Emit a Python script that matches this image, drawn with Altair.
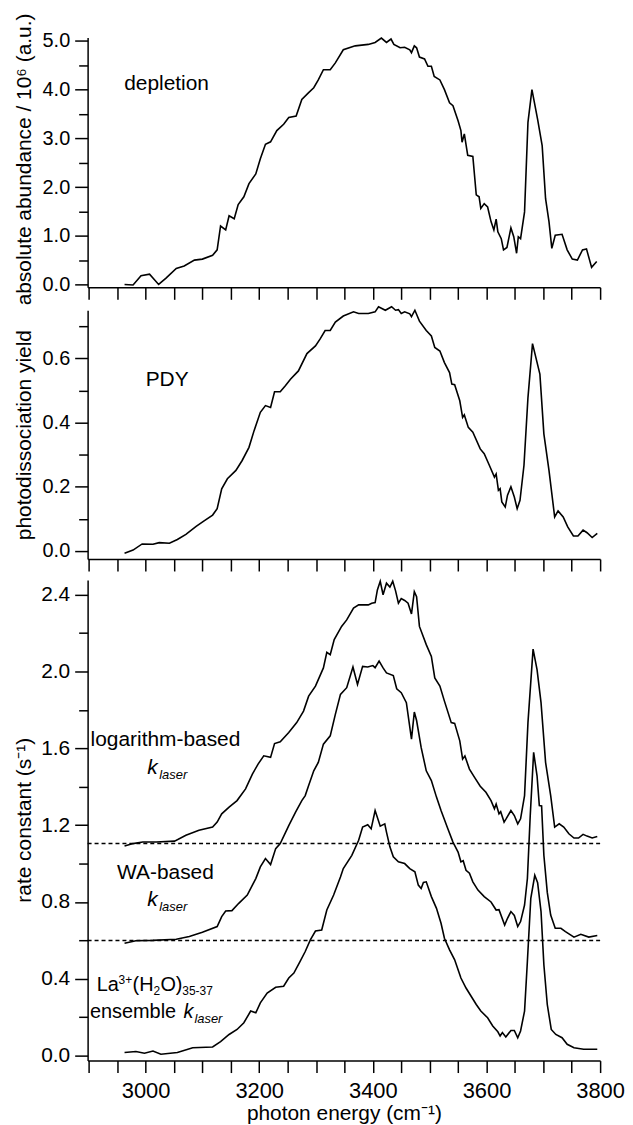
import altair as alt
import pandas as pd

FONT = "Liberation Sans"

# ---------------- data ----------------
dep_x = [2963, 2978, 2992, 3007, 3023, 3036, 3054, 3068, 3086, 3100, 3118, 3126, 3132, 3141, 3147,
         3156, 3163, 3173, 3182, 3194, 3202, 3211, 3220, 3231, 3243, 3252, 3265, 3275, 3287, 3296,
         3304, 3313, 3325, 3334, 3348, 3369, 3392, 3404, 3415, 3424, 3432, 3437, 3448, 3456, 3465,
         3468, 3473, 3477, 3482, 3491, 3497, 3503, 3508, 3518, 3526, 3535, 3541, 3550, 3555, 3557,
         3561, 3567, 3576, 3582, 3587, 3590, 3596, 3602, 3608, 3613, 3617, 3620, 3626, 3630, 3636,
         3643, 3648, 3653, 3656, 3660, 3667, 3673, 3680, 3690, 3698, 3704, 3710, 3715, 3721, 3733,
         3742, 3751, 3760, 3769, 3776, 3785, 3794]
dep_y = [0.00, -0.01, 0.18, 0.21, 0.00, 0.13, 0.33, 0.38, 0.50, 0.52, 0.60, 0.71, 1.20, 1.12, 1.41,
         1.35, 1.64, 1.80, 2.07, 2.27, 2.58, 2.88, 2.93, 3.16, 3.29, 3.43, 3.46, 3.80, 3.94, 4.04,
         4.20, 4.41, 4.41, 4.55, 4.82, 4.90, 4.93, 4.97, 5.06, 4.97, 5.04, 4.93, 4.86, 4.87, 4.82,
         4.76, 4.90, 4.86, 4.67, 4.63, 4.48, 4.48, 4.27, 4.20, 4.00, 3.73, 3.67, 3.36, 3.16, 2.92,
         3.09, 2.65, 2.63, 1.84, 1.80, 1.56, 1.66, 1.59, 1.29, 1.12, 1.34, 1.08, 0.94, 0.71, 0.76,
         1.16, 0.98, 0.64, 0.98, 0.94, 1.49, 3.33, 4.00, 3.39, 2.85, 1.76, 1.29, 0.74, 1.01, 1.03,
         0.71, 0.52, 0.50, 0.71, 0.73, 0.35, 0.47]

pdy_x = [2963, 2978, 2994, 3013, 3024, 3042, 3056, 3071, 3089, 3103, 3118, 3126, 3134, 3144, 3159,
         3170, 3182, 3191, 3202, 3211, 3220, 3227, 3237, 3246, 3255, 3269, 3284, 3299, 3307, 3316,
         3325, 3334, 3348, 3366, 3375, 3392, 3404, 3410, 3422, 3433, 3440, 3445, 3450, 3456, 3465,
         3468, 3474, 3482, 3494, 3503, 3509, 3518, 3526, 3535, 3539, 3544, 3553, 3558, 3561, 3568,
         3576, 3589, 3596, 3605, 3614, 3617, 3621, 3624, 3627, 3633, 3637, 3643, 3649, 3654, 3659,
         3666, 3673, 3681, 3694, 3701, 3710, 3720, 3726, 3735, 3743, 3753, 3761, 3770, 3777, 3786,
         3795]
pdy_y = [-0.007, 0.003, 0.022, 0.021, 0.026, 0.024, 0.036, 0.052, 0.077, 0.094, 0.112, 0.132, 0.194,
         0.225, 0.251, 0.282, 0.323, 0.375, 0.432, 0.453, 0.447, 0.496, 0.496, 0.515, 0.535, 0.561,
         0.615, 0.639, 0.660, 0.687, 0.687, 0.713, 0.732, 0.745, 0.740, 0.740, 0.745, 0.761, 0.750,
         0.761, 0.750, 0.752, 0.740, 0.745, 0.739, 0.730, 0.750, 0.716, 0.687, 0.670, 0.634, 0.623,
         0.587, 0.556, 0.520, 0.518, 0.468, 0.416, 0.424, 0.385, 0.370, 0.318, 0.303, 0.267, 0.230,
         0.240, 0.189, 0.194, 0.153, 0.137, 0.174, 0.200, 0.168, 0.132, 0.158, 0.267, 0.478, 0.646,
         0.551, 0.365, 0.251, 0.106, 0.125, 0.106, 0.075, 0.047, 0.047, 0.065, 0.057, 0.042, 0.055]

log_x = [2963, 2978, 2995, 3019, 3051, 3071, 3094, 3118, 3126, 3134, 3147, 3161, 3176, 3188, 3198,
         3208, 3220, 3227, 3237, 3252, 3266, 3278, 3287, 3299, 3313, 3319, 3325, 3332, 3345, 3354,
         3366, 3375, 3392, 3398, 3404, 3408, 3413, 3418, 3424, 3430, 3435, 3440, 3445, 3450, 3456,
         3462, 3468, 3473, 3477, 3482, 3494, 3503, 3509, 3518, 3526, 3538, 3544, 3553, 3558, 3562,
         3570, 3579, 3589, 3599, 3608, 3614, 3617, 3622, 3625, 3631, 3635, 3643, 3649, 3655, 3660,
         3667, 3673, 3682, 3689, 3696, 3704, 3713, 3720, 3728, 3736, 3745, 3754, 3762, 3770, 3777,
         3786, 3795]
log_y = [1.092, 1.104, 1.112, 1.112, 1.117, 1.147, 1.173, 1.190, 1.216, 1.259, 1.294, 1.328, 1.389,
         1.466, 1.518, 1.561, 1.553, 1.625, 1.634, 1.682, 1.734, 1.794, 1.872, 1.924, 2.019, 2.100,
         2.088, 2.166, 2.235, 2.269, 2.330, 2.347, 2.347, 2.356, 2.359, 2.425, 2.470, 2.400, 2.460,
         2.440, 2.470, 2.420, 2.356, 2.380, 2.370, 2.356, 2.300, 2.416, 2.390, 2.235, 2.140, 2.079,
         1.967, 1.924, 1.846, 1.734, 1.730, 1.639, 1.544, 1.560, 1.492, 1.449, 1.403, 1.371, 1.328,
         1.285, 1.310, 1.259, 1.270, 1.216, 1.235, 1.276, 1.250, 1.207, 1.233, 1.354, 1.734, 2.117,
         2.010, 1.838, 1.527, 1.354, 1.190, 1.207, 1.190, 1.155, 1.133, 1.133, 1.152, 1.143, 1.133,
         1.141]

wa_x = [2963, 2983, 3013, 3054, 3077, 3100, 3126, 3134, 3141, 3152, 3164, 3179, 3188, 3194, 3202,
        3211, 3220, 3229, 3237, 3252, 3264, 3275, 3281, 3287, 3296, 3304, 3313, 3325, 3334, 3343,
        3354, 3365, 3373, 3382, 3391, 3400, 3404, 3411, 3418, 3424, 3436, 3442, 3450, 3459, 3468,
        3473, 3477, 3485, 3494, 3503, 3512, 3520, 3532, 3541, 3550, 3555, 3559, 3564, 3570, 3576,
        3585, 3596, 3608, 3617, 3622, 3632, 3637, 3643, 3649, 3655, 3660, 3667, 3672, 3677, 3683,
        3689, 3693, 3697, 3701, 3707, 3713, 3721, 3731, 3739, 3754, 3766, 3780, 3795]
wa_y = [0.585, 0.598, 0.600, 0.606, 0.620, 0.642, 0.672, 0.724, 0.753, 0.755, 0.793, 0.836, 0.888,
        0.922, 0.983, 1.026, 0.995, 1.078, 1.104, 1.198, 1.268, 1.328, 1.354, 1.406, 1.483, 1.527,
        1.622, 1.665, 1.777, 1.881, 1.916, 2.024, 1.933, 2.027, 2.024, 2.031, 2.020, 2.054, 2.019,
        1.993, 1.979, 1.910, 1.890, 1.838, 1.648, 1.789, 1.745, 1.605, 1.483, 1.432, 1.346, 1.276,
        1.181, 1.112, 1.060, 1.009, 1.015, 0.965, 0.950, 0.905, 0.862, 0.828, 0.800, 0.758, 0.760,
        0.680, 0.715, 0.750, 0.730, 0.672, 0.698, 0.784, 0.922, 1.250, 1.579, 1.457, 1.302, 1.300,
        1.043, 0.850, 0.732, 0.663, 0.663, 0.646, 0.617, 0.632, 0.617, 0.625]

ens_x = [2963, 2983, 2998, 3013, 3027, 3056, 3083, 3118, 3132, 3147, 3161, 3173, 3185, 3194, 3202,
         3214, 3229, 3243, 3252, 3261, 3272, 3281, 3290, 3299, 3310, 3319, 3331, 3343, 3348, 3363,
         3375, 3382, 3391, 3397, 3404, 3413, 3421, 3424, 3430, 3436, 3445, 3456, 3465, 3474, 3480,
         3485, 3489, 3494, 3503, 3512, 3520, 3526, 3535, 3544, 3555, 3564, 3573, 3582, 3590, 3602,
         3611, 3620, 3624, 3628, 3634, 3643, 3649, 3655, 3660, 3667, 3672, 3678, 3685, 3690, 3696,
         3701, 3707, 3714, 3722, 3733, 3742, 3754, 3771, 3795]
ens_y = [0.016, 0.021, 0.012, 0.024, 0.007, 0.016, 0.041, 0.045, 0.073, 0.110, 0.136, 0.171, 0.232,
         0.223, 0.275, 0.326, 0.356, 0.361, 0.404, 0.430, 0.491, 0.542, 0.603, 0.649, 0.654, 0.758,
         0.836, 0.930, 0.974, 1.043, 1.121, 1.190, 1.202, 1.181, 1.276, 1.195, 1.207, 1.164, 1.087,
         1.035, 1.009, 1.000, 0.974, 0.957, 0.888, 0.870, 0.902, 0.905, 0.828, 0.767, 0.689, 0.611,
         0.551, 0.499, 0.404, 0.352, 0.309, 0.266, 0.232, 0.197, 0.154, 0.124, 0.102, 0.120, 0.097,
         0.131, 0.131, 0.093, 0.128, 0.232, 0.491, 0.819, 0.939, 0.900, 0.750, 0.473, 0.266, 0.136,
         0.110, 0.093, 0.059, 0.041, 0.033, 0.033]

offsets = [1.105, 0.600]          # dashed zero lines of the offset traces

x_ticks = list(range(2900, 3801, 50))
top_ticks = [i * 0.5 for i in range(11)]
mid_ticks = [round(i * 0.1, 1) for i in range(8)]
bot_ticks = [round(i * 0.2, 1) for i in range(13)]

# annotation texts
txt_dep = "depletion"
txt_pdy = "PDY"
txt_log = "logarithm-based"
txt_wa = "WA-based"
txt_k = "k"
txt_laser = "laser"
txt_ens_parts = ["La", "3+", "(H", "2", "O)", "35-37"]
txt_ensemble = "ensemble"

# ---------------- chart ----------------
W = 515
XS = alt.Scale(domain=[2898, 3800], nice=False, zero=False)
YS_TOP = alt.Scale(domain=[-0.06, 5.07], nice=False, zero=False)
YS_MID = alt.Scale(domain=[-0.025, 0.75], nice=False, zero=False)
YS_BOT = alt.Scale(domain=[-0.026, 2.477], nice=False, zero=False)


def x_axis(bottom):
    if bottom:
        return alt.Axis(values=x_ticks, tickSize=12,
                        labelExpr="datum.value % 200 == 0 ? '' + datum.value : ''",
                        labelFontSize=22, labelPadding=8, labelFlush=False, labelOverlap=False,
                        title="photon energy (cm⁻¹)", titleFontSize=21, titlePadding=1)
    return alt.Axis(values=x_ticks, tickSize=12, labels=False, title=None)


def y_axis(title, values, major, lsize, ty):
    return alt.Axis(values=values, title=title,
                    tickSize={"condition": {"test": "!(" + major + ")", "value": 9}, "value": 13},
                    labelExpr=major + " ? format(datum.value, '.1f') : ''",
                    labelFontSize=lsize, labelPadding=5, labelFlush=False, labelOverlap=False,
                    titleX=-53, titleY=ty, titleFontSize=21)


class Panel:
    def __init__(self, yscale, xaxis, yaxis):
        self.ys, self.xa, self.ya = yscale, xaxis, yaxis

    def enc(self):
        return dict(x=alt.X("x:Q", scale=XS, axis=self.xa),
                    y=alt.Y("y:Q", scale=self.ys, axis=self.ya))

    def curve(self, xs, ys):
        df = pd.DataFrame({"x": xs, "y": ys})
        return alt.Chart(df).mark_line(color="black", strokeWidth=1.6).encode(**self.enc())

    def note(self, text, x, y, size=21, italic=False, dx=0, dy=0, align="left"):
        df = pd.DataFrame({"x": [x], "y": [y], "t": [text]})
        return alt.Chart(df).mark_text(
            font=FONT, fontSize=size, fontStyle="italic" if italic else "normal",
            align=align, baseline="alphabetic", dx=dx, dy=dy, color="black",
        ).encode(text="t:N", **self.enc())

    def hlines(self, ys):
        df = pd.DataFrame({"y": ys})
        return alt.Chart(df).mark_rule(color="black", strokeWidth=1.5, strokeDash=[4, 3]).encode(
            y=alt.Y("y:Q", scale=self.ys, axis=self.ya))


P1 = Panel(YS_TOP, x_axis(False),
           y_axis("absolute abundance / 10⁶ (a.u.)", top_ticks, "datum.value % 1 == 0", 20, 122))
P2 = Panel(YS_MID, x_axis(False),
           y_axis("photodissociation yield", mid_ticks, "round(datum.value * 10) % 2 == 0", 20, 125))
P3 = Panel(YS_BOT, x_axis(True),
           y_axis("rate constant (s⁻¹)", bot_ticks, "round(datum.value * 10) % 4 == 0", 21, 241))

top = alt.layer(
    P1.curve(dep_x, dep_y),
    P1.note(txt_dep, 3037, 3.99, align="center"),
).properties(width=W, height=251)

mid = alt.layer(
    P2.curve(pdy_x, pdy_y),
    P2.note(txt_pdy, 3038, 0.515, align="center"),
).properties(width=W, height=250)

ens_dx = [0, 22, 36, 57, 64, 86]
ens_dy = [0, -7, 0, 4, 0, 4]
ens_sz = [20, 12, 20, 12, 20, 12]
ens_layers = [P3.note(t, 2914, 0.338, size=s, dx=dx, dy=dy)
              for t, s, dx, dy in zip(txt_ens_parts, ens_sz, ens_dx, ens_dy)]

bot = alt.layer(
    P3.curve(log_x, log_y),
    P3.curve(wa_x, wa_y),
    P3.curve(ens_x, ens_y),
    P3.hlines(offsets),
    P3.note(txt_log, 3035, 1.613, align="center"),
    P3.note(txt_k, 3003, 1.466, italic=True),
    P3.note(txt_laser, 3003, 1.466, size=13, italic=True, dx=12, dy=5),
    P3.note(txt_wa, 3035, 0.922, align="center"),
    P3.note(txt_k, 3003, 0.777, italic=True),
    P3.note(txt_laser, 3003, 0.777, size=13, italic=True, dx=12, dy=5),
    *ens_layers,
    P3.note(txt_ensemble, 2902, 0.198, size=20),
    P3.note(txt_k, 2902, 0.198, size=20, italic=True, dx=94),
    P3.note(txt_laser, 2902, 0.198, size=13, italic=True, dx=105, dy=5),
).properties(width=W, height=483)

lower = alt.vconcat(mid, bot, spacing=21, bounds="flush")

chart = alt.vconcat(top, lower, spacing=23, bounds="flush").properties(
    padding={"left": 5, "top": 2, "right": 0, "bottom": 0}
).configure_view(stroke=None).configure_axis(
    domainColor="black", domainWidth=1.5, tickColor="black", tickWidth=1.5,
    labelColor="black", titleColor="black", labelFont=FONT, titleFont=FONT,
    titleFontWeight="normal", grid=False,
)

chart.save("out.html", embed_options={"renderer": "svg", "actions": False})
